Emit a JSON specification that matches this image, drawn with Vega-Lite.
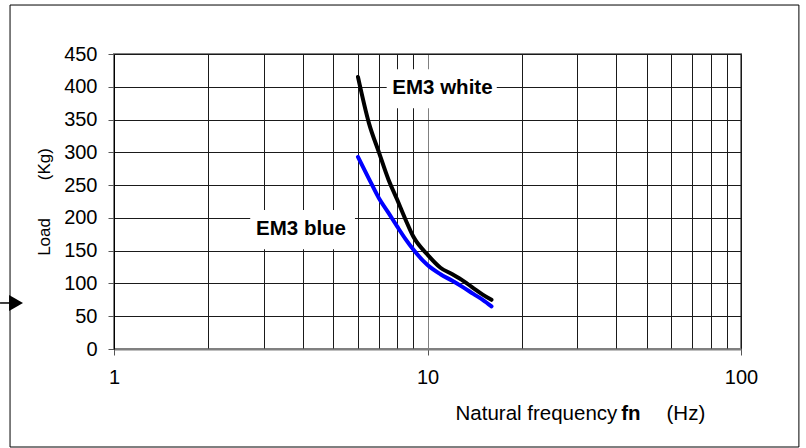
{
  "$schema": "https://vega.github.io/schema/vega-lite/v6.json",
  "width": 627,
  "height": 295,
  "autosize": {"type": "none"},
  "padding": {"left": 114, "top": 54, "right": 65, "bottom": 99},
  "background": "white",
  "config": {
    "view": {"stroke": "#808080", "strokeWidth": 2},
    "font": "Liberation Sans",
    "axis": {"labelFont": "Liberation Sans", "titleFont": "Liberation Sans", "labelColor": "black", "titleColor": "black"},
    "axisY": {
      "values": [0, 50, 100, 150, 200, 250, 300, 350, 400, 450],
      "grid": true,
      "gridColor": "#1a1a1a",
      "gridWidth": 1,
      "tickSize": 6,
      "tickColor": "#555555",
      "labelFontSize": 20,
      "labelPadding": 11,
      "domainColor": "black",
      "domainWidth": 1,
      "titleFontSize": 17,
      "titleFontWeight": "normal",
      "titleAlign": "center",
      "titleBaseline": "alphabetic",
      "titleX": -65,
      "titleY": 147.5
    }
  },
  "datasets": {
    "curves": [
      {"series": "EM3 white", "f": 6, "load": 415},
      {"series": "EM3 white", "f": 6.5, "load": 345},
      {"series": "EM3 white", "f": 7, "load": 300},
      {"series": "EM3 white", "f": 7.5, "load": 259},
      {"series": "EM3 white", "f": 8, "load": 228},
      {"series": "EM3 white", "f": 8.5, "load": 198},
      {"series": "EM3 white", "f": 9, "load": 172},
      {"series": "EM3 white", "f": 10, "load": 144},
      {"series": "EM3 white", "f": 11, "load": 124},
      {"series": "EM3 white", "f": 12, "load": 114},
      {"series": "EM3 white", "f": 13, "load": 104},
      {"series": "EM3 white", "f": 14, "load": 93},
      {"series": "EM3 white", "f": 15, "load": 83},
      {"series": "EM3 white", "f": 16, "load": 75},
      {"series": "EM3 blue", "f": 6, "load": 293},
      {"series": "EM3 blue", "f": 6.5, "load": 260},
      {"series": "EM3 blue", "f": 7, "load": 230},
      {"series": "EM3 blue", "f": 7.5, "load": 208},
      {"series": "EM3 blue", "f": 8, "load": 187},
      {"series": "EM3 blue", "f": 8.5, "load": 168},
      {"series": "EM3 blue", "f": 9, "load": 152},
      {"series": "EM3 blue", "f": 10, "load": 128},
      {"series": "EM3 blue", "f": 11, "load": 114},
      {"series": "EM3 blue", "f": 12, "load": 104},
      {"series": "EM3 blue", "f": 13, "load": 94},
      {"series": "EM3 blue", "f": 14, "load": 84},
      {"series": "EM3 blue", "f": 15, "load": 75},
      {"series": "EM3 blue", "f": 16, "load": 65}
    ],
    "boxes": [
      {"x": 7.41, "x2": 16.63, "y": 426.7, "y2": 367.2},
      {"x": 2.72, "x2": 5.87, "y": 212, "y2": 152}
    ],
    "labels": [
      {"label": "EM3 white", "x": 11.16, "y": 398},
      {"label": "EM3 blue", "x": 3.95, "y": 183}
    ],
    "frame": [{"x": 0.466, "x2": 153, "y": 524.7, "y2": -149.5}],
    "arrow": [{"x": 0.433, "x2": 0.47, "xp": 0.487, "y": 70.2}]
  },
  "resolve": {"axis": {"x": "independent"}},
  "layer": [
    {
      "data": {"name": "frame"},
      "mark": {"type": "rect", "fill": "transparent", "stroke": "black", "strokeWidth": 1, "clip": false},
      "encoding": {
        "x": {"field": "x", "type": "quantitative", "scale": {"type": "log", "domain": [1, 100], "nice": false}, "axis": null},
        "x2": {"field": "x2"},
        "y": {
          "field": "y", "type": "quantitative",
          "scale": {"domain": [0, 450], "nice": false, "zero": true},
          "title": "Load\u00a0\u00a0\u00a0\u00a0\u00a0\u00a0\u00a0\u00a0(Kg)"
        },
        "y2": {"field": "y2"}
      }
    },
    {
      "data": {"name": "boxes"},
      "mark": {"type": "rect", "fill": "white", "strokeWidth": 0},
      "encoding": {
        "x": {"field": "x", "type": "quantitative", "axis": null},
        "x2": {"field": "x2"},
        "y": {"field": "y", "type": "quantitative", "title": "Load\u00a0\u00a0\u00a0\u00a0\u00a0\u00a0\u00a0\u00a0(Kg)"},
        "y2": {"field": "y2"}
      }
    },
    {
      "data": {"name": "curves"},
      "mark": {"type": "line", "strokeWidth": 4, "interpolate": "monotone", "strokeCap": "round"},
      "encoding": {
        "x": {
          "field": "f", "type": "quantitative",
          "axis": {
            "orient": "bottom",
            "values": [1, 2, 3, 4, 5, 6, 7, 8, 9, 10, 20, 30, 40, 50, 60, 70, 80, 90, 100],
            "labelExpr": "(datum.value == 1 || datum.value == 10 || datum.value == 100) ? ('' + datum.value) : ''",
            "grid": true,
            "gridColor": {"condition": {"test": "datum.value == 10", "value": "#808080"}, "value": "#1a1a1a"},
            "gridWidth": 1,
            "tickColor": {"condition": {"test": "datum.value == 1 || datum.value == 10 || datum.value == 100", "value": "#555555"}, "value": "transparent"},
            "tickSize": 6,
            "labelFontSize": 20,
            "labelPadding": 12,
            "labelFlush": false,
            "labelOverlap": false,
            "domainColor": "#808080",
            "domainWidth": 2,
            "title": "Natural frequency",
            "titleFontSize": 20.5,
            "titleFontWeight": "normal",
            "titleAlign": "left",
            "titleBaseline": "alphabetic",
            "titleX": 341,
            "titleY": 70
          }
        },
        "y": {"field": "load", "type": "quantitative", "title": "Load\u00a0\u00a0\u00a0\u00a0\u00a0\u00a0\u00a0\u00a0(Kg)"},
        "color": {
          "field": "series", "type": "nominal",
          "scale": {"domain": ["EM3 white", "EM3 blue"], "range": ["#000000", "#0000ff"]},
          "legend": null
        }
      }
    },
    {
      "data": {"name": "labels"},
      "mark": {"type": "text", "fontSize": 20.5, "fontWeight": "bold", "font": "Liberation Sans", "color": "black", "align": "center", "baseline": "middle"},
      "encoding": {
        "x": {
          "field": "x", "type": "quantitative",
          "axis": {
            "orient": "bottom", "domain": false, "ticks": false, "labels": false, "grid": false,
            "title": "fn", "titleFontSize": 20.5, "titleFontWeight": "bold",
            "titleAlign": "left", "titleBaseline": "alphabetic", "titleX": 506.7, "titleY": 70
          }
        },
        "y": {"field": "y", "type": "quantitative", "title": "Load\u00a0\u00a0\u00a0\u00a0\u00a0\u00a0\u00a0\u00a0(Kg)"},
        "text": {"field": "label"}
      }
    },
    {
      "data": {"name": "arrow"},
      "mark": {"type": "rule", "color": "black", "strokeWidth": 1.5, "clip": false},
      "encoding": {
        "x": {
          "field": "x", "type": "quantitative",
          "axis": {
            "orient": "bottom", "domain": false, "ticks": false, "labels": false, "grid": false,
            "title": "(Hz)", "titleFontSize": 20.5, "titleFontWeight": "normal",
            "titleAlign": "left", "titleBaseline": "alphabetic", "titleX": 552, "titleY": 70
          }
        },
        "x2": {"field": "x2"},
        "y": {"field": "y", "type": "quantitative", "title": "Load\u00a0\u00a0\u00a0\u00a0\u00a0\u00a0\u00a0\u00a0(Kg)"}
      }
    },
    {
      "data": {"name": "arrow"},
      "mark": {"type": "point", "shape": "triangle-right", "filled": true, "color": "black", "opacity": 1, "size": 260, "clip": false},
      "encoding": {
        "x": {"field": "xp", "type": "quantitative", "axis": null},
        "y": {"field": "y", "type": "quantitative", "title": "Load\u00a0\u00a0\u00a0\u00a0\u00a0\u00a0\u00a0\u00a0(Kg)"}
      }
    }
  ]
}
